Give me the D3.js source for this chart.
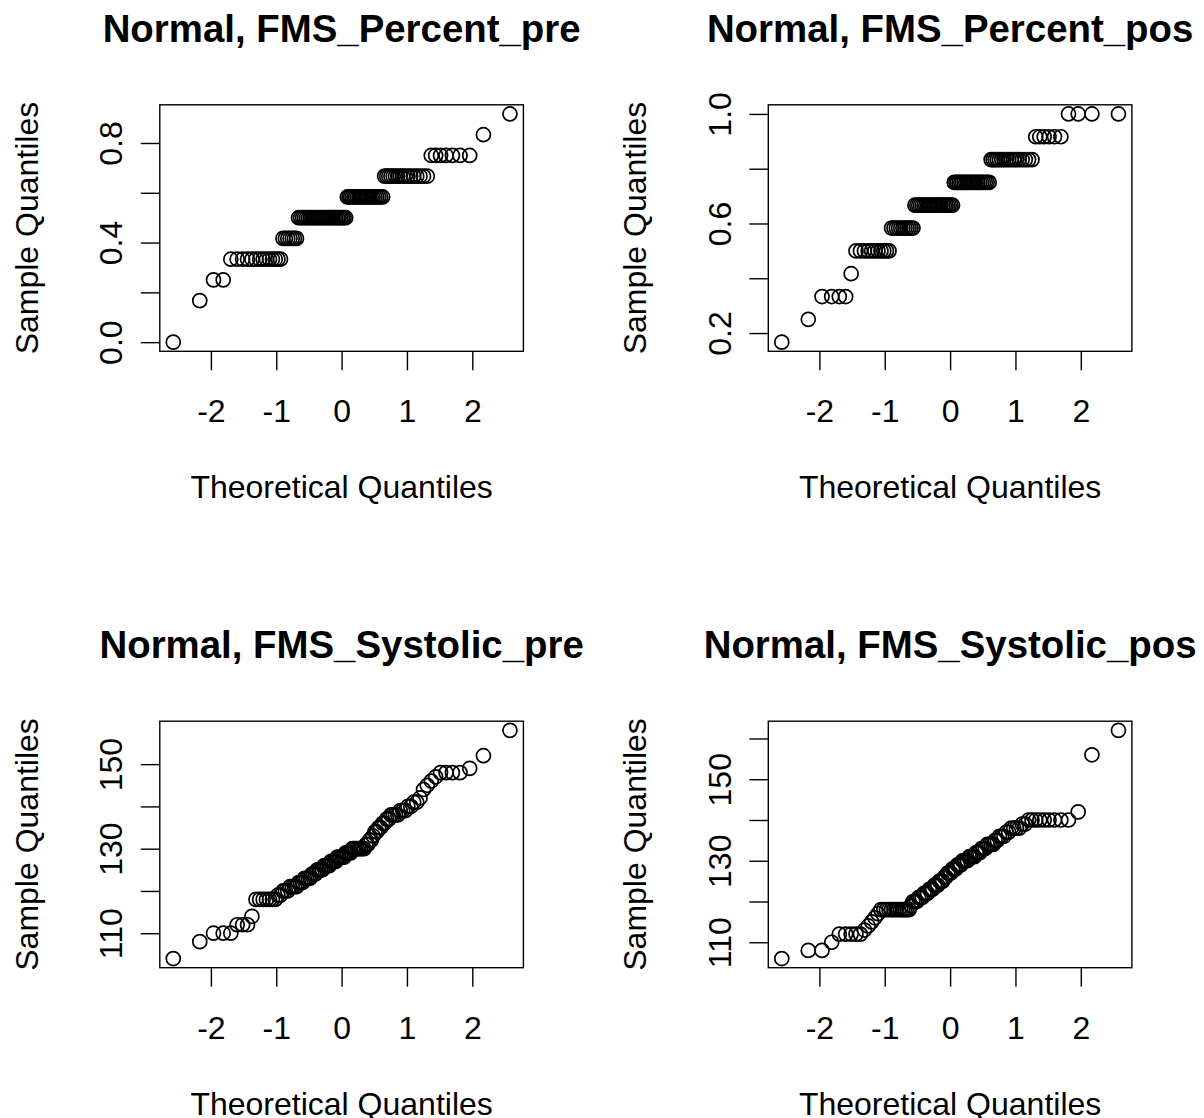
<!DOCTYPE html>
<html>
<head>
<meta charset="utf-8">
<script src="https://cdn.jsdelivr.net/npm/d3@7"></script>
<style>
  body { margin: 0; background: #fff; }
  svg text { font-family: "Liberation Sans", Arial, Helvetica, sans-serif; fill: #000; }
</style>
</head>
<body>
<svg id="chart"></svg>
<script>

// FMS score as a share of 12 (levels), and how many subjects sit on each level
const percentLevels = [0, 0.1667, 0.25, 0.3333, 0.4167, 0.5, 0.5833, 0.6667, 0.75, 0.8333, 0.9167, 1.0];
const percentPreCounts = [1, 1, 2, 14, 7, 28, 21, 17, 7, 1, 1, 0];
const percentPosCounts = [0, 1, 1, 4, 1, 11, 11, 23, 21, 17, 6, 4];

// systolic pressure, sorted samples (n = 100)
const systolicPre = [
  104, 108, 110, 110, 110, 112, 112, 112, 114, 118,
  118, 118, 118, 118, 118, 118, 119, 119, 120, 120,
  120, 121, 121, 121, 121, 122, 122, 122, 123, 123,
  123, 123, 124, 124, 124, 125, 125, 125, 125, 126,
  126, 126, 126, 127, 127, 127, 127, 128, 128, 128,
  128, 128, 129, 129, 129, 129, 130, 130, 130, 130,
  130, 130, 130, 130, 131, 131, 132, 132, 133, 134,
  134, 135, 135, 136, 136, 137, 137, 138, 138, 138,
  138, 139, 139, 139, 140, 140, 141, 141, 142, 144,
  145, 146, 147, 148, 148, 148, 148, 149, 152, 158
];
const systolicPos = [
  106, 108, 108, 110, 112, 112, 112, 112, 112, 113,
  114, 115, 116, 117, 118, 118, 118, 118, 118, 118,
  118, 118, 118, 118, 118, 118, 118, 119, 120, 120,
  120, 121, 121, 121, 122, 122, 122, 123, 123, 123,
  124, 124, 124, 125, 125, 125, 126, 126, 127, 127,
  127, 128, 128, 128, 129, 129, 129, 130, 130, 130,
  130, 131, 131, 131, 131, 132, 132, 132, 133, 133,
  133, 134, 134, 134, 134, 135, 135, 136, 136, 136,
  137, 137, 138, 138, 138, 138, 139, 139, 140, 140,
  140, 140, 140, 140, 140, 140, 140, 142, 156, 162
];

const titles = ['Normal, FMS_Percent_pre', 'Normal, FMS_Percent_pos', 'Normal, FMS_Systolic_pre', 'Normal, FMS_Systolic_pos'];
const xTicks = [-2, -1, 0, 1, 2];
const percentPreTicks = [0, 0.2, 0.4, 0.6, 0.8];
const percentPreLabels = [0, 0.4, 0.8];
const percentPosTicks = [0.2, 0.4, 0.6, 0.8, 1.0];
const percentPosLabels = [0.2, 0.6, 1.0];
const systolicPreTicks = [110, 120, 130, 140, 150];
const systolicPosTicks = [110, 120, 130, 140, 150, 160];
const systolicLabels = [110, 130, 150];

// expand level/count pairs into the sorted sample
function expand(levels, counts) {
  let out = [];
  levels.forEach((v, i) => { for (let k = 0; k < counts[i]; k++) out.push(v); });
  return out;
}

// inverse normal cdf (Acklam)
function qnorm(p) {
  const a = [-3.969683028665376e+01, 2.209460984245205e+02, -2.759285104469687e+02, 1.383577518672690e+02, -3.066479806614716e+01, 2.506628277459239e+00];
  const b = [-5.447609879822406e+01, 1.615858368580409e+02, -1.556989798598866e+02, 6.680131188771972e+01, -1.328068155288572e+01];
  const c = [-7.784894002430293e-03, -3.223964580411365e-01, -2.400758277161838e+00, -2.549732539343734e+00, 4.374664141464968e+00, 2.938163982698783e+00];
  const d = [7.784695709041462e-03, 3.224671290700398e-01, 2.445134137142996e+00, 3.754408661907416e+00];
  const plow = 0.02425;
  let q, r;
  if (p < plow || p > 1 - plow) {
    q = Math.sqrt(-2 * Math.log(p < plow ? p : 1 - p));
    let v = (((((c[0]*q+c[1])*q+c[2])*q+c[3])*q+c[4])*q+c[5]) / ((((d[0]*q+d[1])*q+d[2])*q+d[3])*q+1);
    return p < plow ? v : -v;
  }
  q = p - 0.5; r = q * q;
  return (((((a[0]*r+a[1])*r+a[2])*r+a[3])*r+a[4])*r+a[5])*q / (((((b[0]*r+b[1])*r+b[2])*r+b[3])*r+b[4])*r+1);
}

class QQPlot {

  constructor(_config, _data) {
    this.config = {
      parentElement: _config.parentElement,
      left: _config.left,
      top: _config.top,
      width: _config.width || 363.6,
      height: _config.height || 246.5,
      title: _config.title,
      yTicks: _config.yTicks,
      yLabels: _config.yLabels,
      yFormat: _config.yFormat
    }
    this.data = _data;
    this.initVis();
  }

  initVis() {
    let vis = this;
    let c = vis.config;

    vis.chart = d3.select(c.parentElement).append('g')
        .attr('transform', `translate(${c.left},${c.top})`);

    vis.xScale = d3.scaleLinear().range([0, c.width]);
    vis.yScale = d3.scaleLinear().range([c.height, 0]);

    vis.xAxisG = vis.chart.append('g')
        .attr('class', 'axis x-axis')
        .attr('transform', `translate(0,${c.height})`);
    vis.yAxisG = vis.chart.append('g')
        .attr('class', 'axis y-axis');

    vis.chart.append('rect')
        .attr('width', c.width)
        .attr('height', c.height)
        .attr('fill', 'none')
        .attr('stroke', '#000')
        .attr('stroke-width', 1.4);

    vis.chart.append('text')
        .attr('x', c.width / 2)
        .attr('y', -63)
        .attr('text-anchor', 'middle')
        .style('font-size', '38.4px')
        .style('font-weight', 'bold')
        .text(c.title);

    vis.chart.append('text')
        .attr('x', c.width / 2)
        .attr('y', c.height + 147)
        .attr('text-anchor', 'middle')
        .style('font-size', '32px')
        .text('Theoretical Quantiles');

    vis.chart.append('text')
        .attr('transform', `translate(-122,${c.height / 2}) rotate(-90)`)
        .attr('text-anchor', 'middle')
        .style('font-size', '32px')
        .text('Sample Quantiles');

    vis.updateVis();
  }

  updateVis() {
    let vis = this;
    let n = vis.data.length;

    // theoretical quantiles, ppoints(n) for n > 10
    vis.points = vis.data.map((v, i) => ({ q: qnorm((i + 1 - 0.5) / n), v: v }));

    // 4% padding like R's default axis style
    let xr = d3.extent(vis.points, d => d.q);
    let yr = d3.extent(vis.points, d => d.v);
    let xp = (xr[1] - xr[0]) * 0.04, yp = (yr[1] - yr[0]) * 0.04;
    vis.xScale.domain([xr[0] - xp, xr[1] + xp]);
    vis.yScale.domain([yr[0] - yp, yr[1] + yp]);

    vis.renderVis();
  }

  renderVis() {
    let vis = this;
    let c = vis.config;

    vis.chart.selectAll('.pt')
        .data(vis.points)
      .join('circle')
        .attr('class', 'pt')
        .attr('cx', d => vis.xScale(d.q))
        .attr('cy', d => vis.yScale(d.v))
        .attr('r', 7)
        .attr('fill', 'none')
        .attr('stroke', '#000')
        .attr('stroke-width', 1.7);

    vis.xAxis = d3.axisBottom(vis.xScale)
        .tickValues(xTicks)
        .tickSize(19)
        .tickFormat(d => String(d));
    vis.yAxis = d3.axisLeft(vis.yScale)
        .tickValues(c.yTicks)
        .tickSize(19)
        .tickFormat(d => c.yLabels.includes(d) ? c.yFormat(d) : '');

    vis.xAxisG.call(vis.xAxis);
    vis.yAxisG.call(vis.yAxis);

    [vis.xAxisG, vis.yAxisG].forEach(g => {
      g.select('.domain').remove();
      g.attr('font-family', null).attr('font-size', null);
      g.selectAll('line').attr('stroke', '#000').attr('stroke-width', 1.4);
      g.selectAll('text').style('font-size', '32px').attr('fill', '#000');
    });

    vis.xAxisG.selectAll('text')
        .attr('y', 71)
        .attr('dy', null);

    vis.yAxisG.selectAll('text')
        .attr('x', null)
        .attr('dy', null)
        .attr('text-anchor', 'middle')
        .attr('transform', 'translate(-37.5,0) rotate(-90)');
  }
}

const svg = d3.select('#chart')
    .attr('width', 1204)
    .attr('height', 1118);

const fmt1 = d3.format('.1f');
const fmt0 = d3.format('d');

new QQPlot({ parentElement: '#chart', left: 159.8, top: 104.8, title: titles[0],
  yTicks: percentPreTicks, yLabels: percentPreLabels, yFormat: fmt1 },
  expand(percentLevels, percentPreCounts));

new QQPlot({ parentElement: '#chart', left: 768.3, top: 104.8, title: titles[1],
  yTicks: percentPosTicks, yLabels: percentPosLabels, yFormat: fmt1 },
  expand(percentLevels, percentPosCounts));

new QQPlot({ parentElement: '#chart', left: 159.8, top: 721.2, title: titles[2],
  yTicks: systolicPreTicks, yLabels: systolicLabels, yFormat: fmt0 },
  systolicPre);

new QQPlot({ parentElement: '#chart', left: 768.3, top: 721.2, title: titles[3],
  yTicks: systolicPosTicks, yLabels: systolicLabels, yFormat: fmt0 },
  systolicPos);

</script>
</body>
</html>
